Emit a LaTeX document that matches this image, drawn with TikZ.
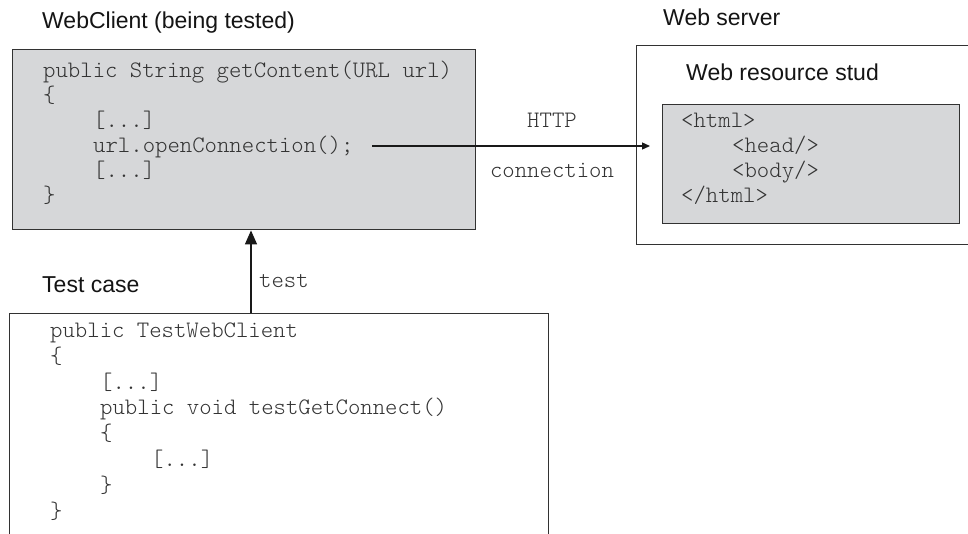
\documentclass[tikz,border=0pt]{standalone}
\usepackage{fontspec}
\setmainfont{Liberation Sans}
\newfontfamily\codefont[Extension=.otf, UprightFont=*-regular]{lmmonolt10}
\usetikzlibrary{arrows.meta}
\definecolor{boxgray}{RGB}{214,215,217}
\definecolor{edgegray}{RGB}{50,50,50}
\begin{document}
\begin{tikzpicture}[x=1pt,y=-1pt,
  codeline/.style={font=\codefont\fontsize{23.6}{26}\selectfont, text=black!80, anchor=base west, inner sep=0pt},
  titletext/.style={font=\fontsize{23}{27}\selectfont, text=black!92, anchor=base west, inner sep=0pt},
  graybox/.style={draw=edgegray, fill=boxgray, line width=1.4pt, anchor=north west, inner sep=0pt},
  whitebox/.style={draw=edgegray, fill=white, line width=1.4pt, anchor=north west, inner sep=0pt},
  connector/.style={draw=black!90, line width=1.3pt}
]
\fill[white] (0,0) rectangle (968,533);
\useasboundingbox (0,0) rectangle (968,533);

% boxes
\node[graybox, minimum width=463pt, minimum height=180pt] (client) at (12,49) {};
\node[whitebox, minimum width=345pt, minimum height=199pt] (server) at (636,45) {};
\node[graybox, minimum width=297pt, minimum height=119pt] (stub) at (662,104) {};
\node[whitebox, minimum width=539pt, minimum height=240pt] (tcase) at (9,313) {};

% titles
\node[titletext] (t1) at (42,28) {WebClient (being tested)};
\node[titletext] (t2) at (663,25) {Web server};
\node[titletext] (t3) at (686,80) {Web resource stud};
\node[titletext] (t4) at (42,292) {Test case};

% client code
\node[codeline] (a1) at (43,77) {public String getContent(URL url)};
\node[codeline] (a2) at (43,102) {\{};
\node[codeline] (a3) at (93,127) {[...]};
\node[codeline] (a4) at (93,152) {url.openConnection();};
\node[codeline] (a5) at (93,177) {[...]};
\node[codeline] (a6) at (43,202) {\}};

% html
\node[codeline] (h1) at (681,127) {<html>};
\node[codeline] (h2) at (732,152) {<head/>};
\node[codeline] (h3) at (732,177) {<body/>};
\node[codeline] (h4) at (681,202) {</html>};

% test case code
\node[codeline] (b1) at (50,337) {public TestWebClient};
\node[codeline] (b2) at (50,363) {\{};
\node[codeline] (b3) at (100,389) {[...]};
\node[codeline] (b4) at (100,414) {public void testGetConnect()};
\node[codeline] (b5) at (100,440) {\{};
\node[codeline] (b6) at (151,466) {[...]};
\node[codeline] (b7) at (100,492) {\}};
\node[codeline] (b8) at (50,518) {\}};

% connectors
\coordinate (hstart) at (372,146);
\draw[connector, -{Triangle[width=7pt,length=8pt]}, shorten >=12pt] (hstart) -- (hstart -| stub.west);
\node[codeline, anchor=base] (http) at (552,127) {HTTP};
\node[codeline, anchor=base] (conn) at (552,177) {connection};

\coordinate (vx) at (251,0);
\draw[connector, -{Triangle[width=12pt,length=14pt]}] (tcase.north -| vx) -- (client.south -| vx);
\node[codeline] (testlbl) at (259,287) {test};
\end{tikzpicture}
\end{document}
